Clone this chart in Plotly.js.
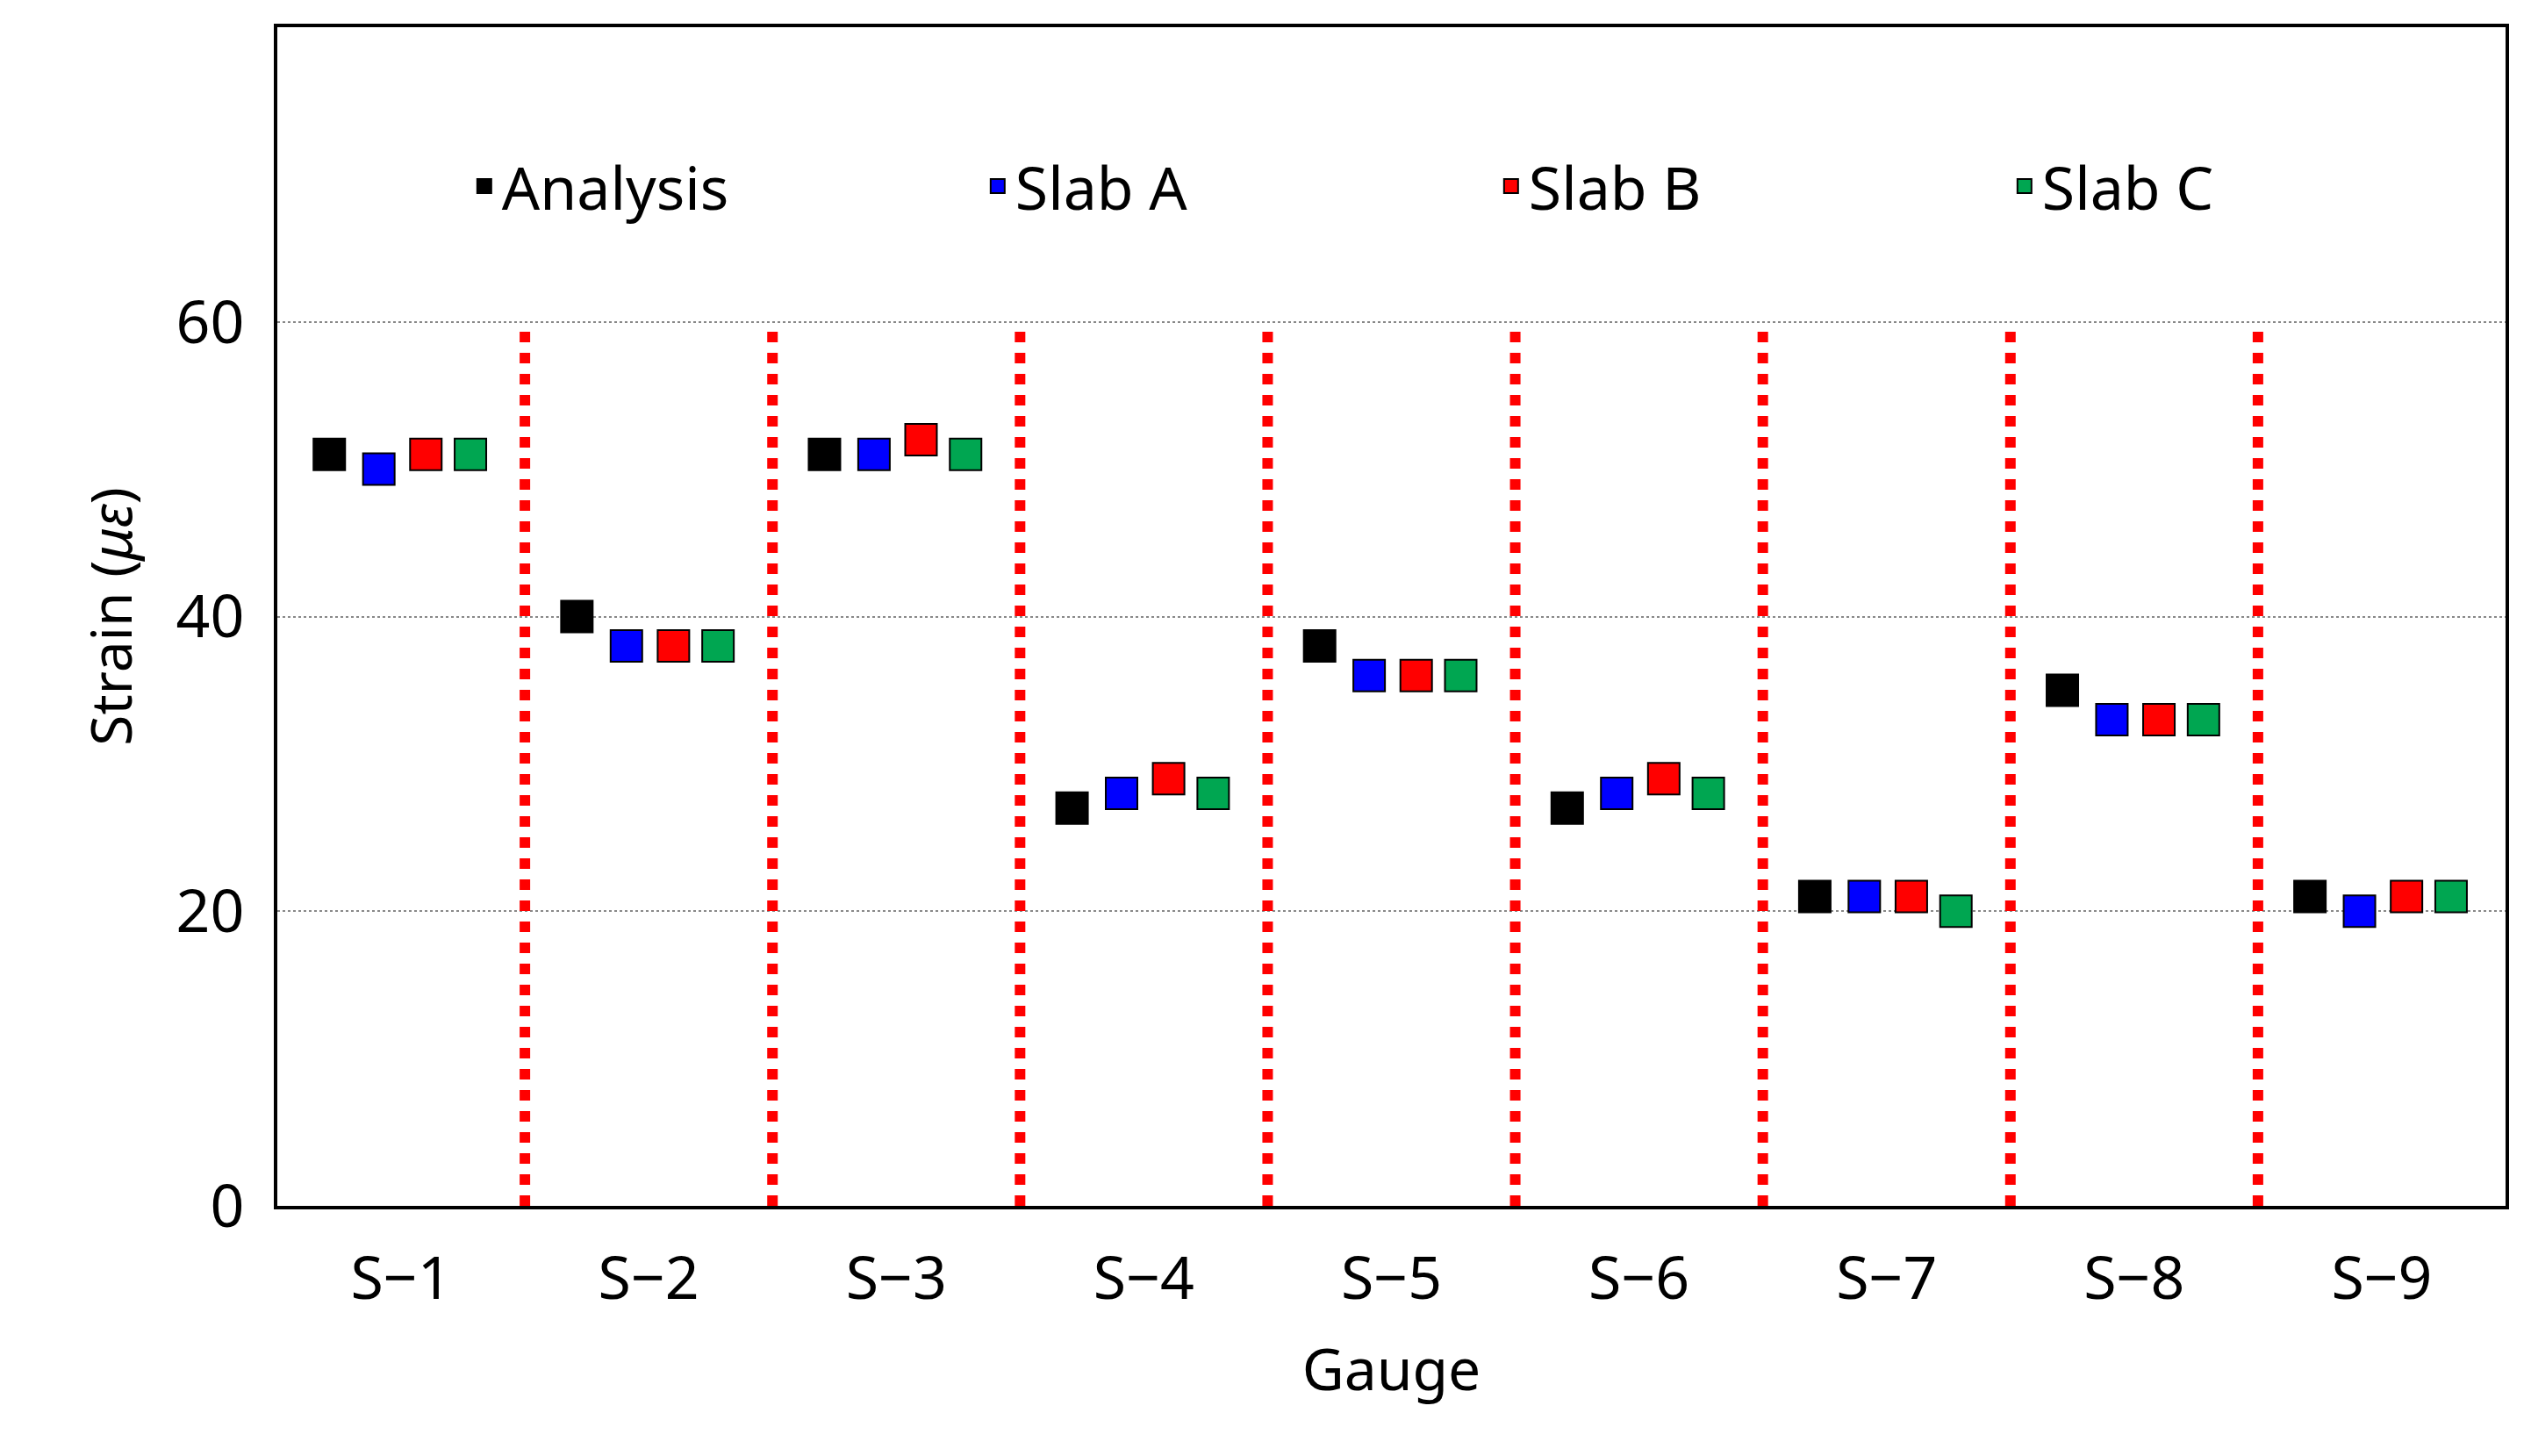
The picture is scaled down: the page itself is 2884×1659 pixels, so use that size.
<!DOCTYPE html>
<html>
<head>
<script src="https://cdn.plot.ly/plotly-3.0.1.min.js"></script>
<style>body{margin:0;background:#fff}</style>
</head>
<body>
<div id="chart" style="width:2884px;height:1659px;"></div>
<script>
// gauge labels and strain readings (micro-strain)
var gauges = ["S−1","S−2","S−3","S−4","S−5","S−6","S−7","S−8","S−9"];
var analysis = [51,40,51,27,38,27,21,35,21];
var slabA    = [50,38,51,28,36,28,21,33,20];
var slabB    = [51,38,52,29,36,29,21,33,21];
var slabC    = [51,38,51,28,36,28,20,33,21];

var series = [
  {name:"Analysis", y:analysis, color:"#000000", off:-0.29},
  {name:"Slab A",   y:slabA,    color:"#0000ff", off:-0.09},
  {name:"Slab B",   y:slabB,    color:"#ff0000", off:0.10},
  {name:"Slab C",   y:slabC,    color:"#00a651", off:0.28}
];

var data = series.map(function(s){
  return {
    x: gauges.map(function(g,i){return i+1+s.off;}),
    y: s.y, name: s.name, type:"scatter", mode:"markers",
    marker:{symbol:"square", size:36, color:s.color, line:{color:"#000", width:2}}
  };
});

var shapes = [];
for (var i=1;i<gauges.length;i++){
  shapes.push({type:"line", xref:"x", yref:"y", x0:i+0.5, x1:i+0.5, y0:0, y1:60,
    line:{color:"#ff0000", width:12, dash:"dot"}});
}

var font = "Noto Sans, Liberation Sans, sans-serif";
var layout = {
  width:2884, height:1659,
  margin:{l:316, r:29, t:31, b:285},
  paper_bgcolor:"#fff", plot_bgcolor:"#fff",
  font:{family:font, size:68, color:"#000"},
  showlegend:true,
  legend:{orientation:"h", x:0.085, y:0.865, yanchor:"middle", xanchor:"left",
    entrywidth:540, entrywidthmode:"pixels",
    font:{size:68}, bgcolor:"rgba(0,0,0,0)"},
  xaxis:{range:[0.5,9.5], tickvals:[1,2,3,4,5,6,7,8,9], ticktext:gauges,
    showgrid:false, zeroline:false, showline:true, mirror:true, linecolor:"#000", linewidth:4,
    ticks:"", ticklabelstandoff:20,
    title:{text:"Gauge", font:{size:66}, standoff:40}},
  yaxis:{range:[0,80], tickvals:[0,20,40,60], showgrid:true, gridcolor:"#888",
    griddash:"dot", gridwidth:2, zeroline:false, showline:true, mirror:true,
    linecolor:"#000", linewidth:4, ticks:"", ticklabelstandoff:20,
    title:{text:"Strain (<i>με</i>)", font:{size:64}, standoff:30}},
  shapes: shapes
};

Plotly.newPlot("chart", data, layout, {displayModeBar:false});
</script>
</body>
</html>
